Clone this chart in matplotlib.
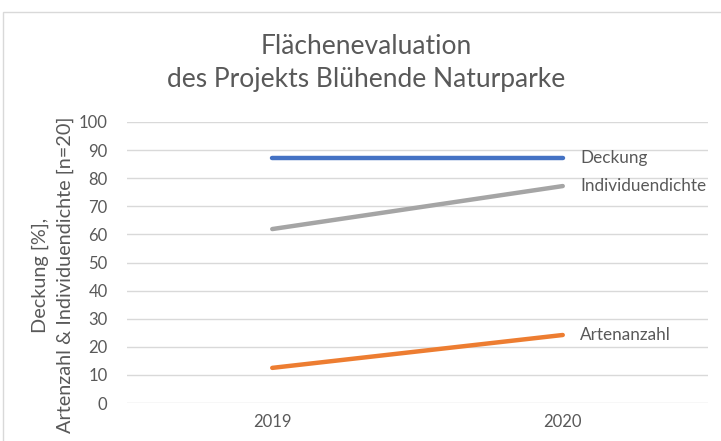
import matplotlib.pyplot as plt
from matplotlib.patches import Rectangle

jahre = ['2019', '2020']
deckung = [87.3, 87.3]
individuendichte = [61.9, 77.2]
artenanzahl = [12.5, 24.2]

serien = ['Deckung', 'Individuendichte', 'Artenanzahl']
werte = [deckung, individuendichte, artenanzahl]
farben = ['#4472C4', '#A5A5A5', '#ED7D31']
grau = '#595959'

plt.rcParams['font.family'] = ['Lato', 'DejaVu Sans']

fig = plt.figure(figsize=(7.21, 4.41), dpi=100)
fig.patches.append(Rectangle((3/721, -0.01), 1, 1.01 - 12/441, transform=fig.transFigure,
                             fill=False, edgecolor='#D9D9D9', linewidth=1))
ax = fig.add_axes([127/721, 38/441, 581/721, 281/441])

x = range(len(jahre))
for name, y, c in zip(serien, werte, farben):
    ax.plot(x, y, color=c, linewidth=3.2, solid_capstyle='round')
    ax.annotate(name, (x[-1], y[-1]), xytext=(12.5, 0), textcoords='offset points',
                va='center', ha='left', fontsize=12.3, color=grau)

ax.set_xlim(-0.5, 1.5)
ax.set_ylim(0, 100)
ax.set_yticks(range(0, 101, 10))
ax.set_xticks(list(x))
ax.set_xticklabels(jahre)
ax.grid(axis='y', color='#D9D9D9', linewidth=1)
ax.set_axisbelow(True)
for s in ax.spines.values():
    s.set_visible(False)
ax.tick_params(length=0, labelsize=12, labelcolor=grau, pad=8)
ax.tick_params(axis='y', pad=14)

fig.text(53/721, 1 - 275/441, 'Deckung [%],\nArtenzahl & Individuendichte [n=20]',
         rotation=90, ha='center', va='center', fontsize=14.3, color=grau,
         linespacing=1.5)

fig.text(366/721, 1 - 63/441, 'Flächenevaluation\ndes Projekts Blühende Naturparke',
         ha='center', va='center', fontsize=19, color=grau, linespacing=1.42)

fig.savefig('out.png', dpi=100)
